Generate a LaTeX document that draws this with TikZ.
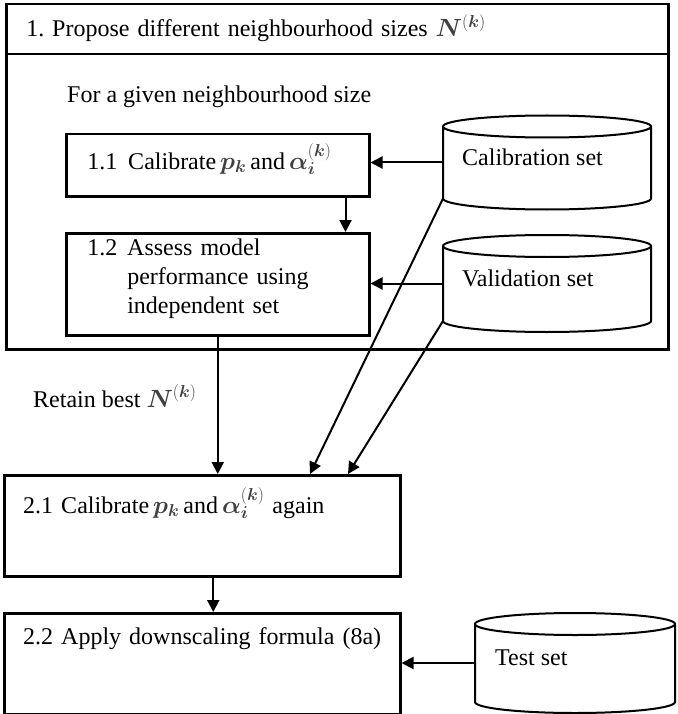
\documentclass[tikz,border=0pt]{standalone}
\usepackage{fontspec}
\setmainfont{Liberation Serif}
\usepackage{bm}
\usetikzlibrary{arrows.meta,calc}

% symbols as printed (bold italic, soft grey)
\newcommand{\Nk}{{\color{black!75}$\bm{N}^{(\bm{k})}$}}
\newcommand{\pk}{{\color{black!75}$\bm{p}_{\bm{k}}$}}
\newcommand{\alik}{{\color{black!75}$\bm{\alpha}_{\bm{i}}^{(\bm{k})}$}}

\tikzset{
  stagebox/.style={draw, line width=2.5pt, anchor=north west, inner sep=0pt,
    align=left, text width=#1},
  dataset/.style={inner sep=0pt, outer sep=0pt},
  flow/.style={-{Triangle[length=12pt,width=12pt]}, line width=2pt},
}

\begin{document}
\begin{tikzpicture}[x=1pt,y=-1pt,
   font=\fontsize{24}{29}\selectfont]
\useasboundingbox (0,0) rectangle (677,714);

% step 1: search over neighbourhood sizes
\node[stagebox=662pt, text height=32pt, text depth=18pt] (propose) at (5,3)
  {\hspace*{20pt}1.\ Propose different neighbourhood sizes \Nk};
\node[draw, line width=2.5pt, anchor=north west, inner sep=0pt,
  minimum width=662pt, minimum height=295pt] (loop) at (5,53) {};
\node[anchor=base west, inner sep=0pt] (given) at (67,103) {For a given neighbourhood size};

\node[stagebox=303pt, text height=35pt, text depth=27pt] (calib) at (65,133)
  {\hspace*{21pt}1.1\hspace{11pt}Calibrate\,\pk\,and\,\alik};
\node[stagebox=303pt, text height=22pt, text depth=80pt] (assess) at (65,232)
  {\hspace*{21pt}\begin{tabular}[t]{@{}l@{\hspace{10pt}}l@{}}
    1.2 & Assess model\\
        & performance using\\
        & independent set
  \end{tabular}};

% data sets
\node[dataset, minimum width=208pt, minimum height=94pt] (calset) at (547,162.5) {};
\node[anchor=base west, inner sep=0pt] (caltext) at (462,165) {Calibration set};
\node[dataset, minimum width=208pt, minimum height=97pt] (valset) at (547,283.5) {};
\node[anchor=base west, inner sep=0pt] (valtext) at (462,286) {Validation set};

% step 2: final calibration and application
\node[anchor=base west, inner sep=0pt] (retain) at (33,407) {Retain best \Nk};
\node[stagebox=396pt, text height=38pt, text depth=63pt] (recal) at (3,474)
  {\hspace*{19pt}2.1 Calibrate\,\pk\,and\,\alik{} again};
\node[stagebox=396pt, text height=31pt, text depth=70pt] (apply) at (3,612)
  {\hspace*{19pt}2.2 Apply downscaling formula (8a)};
\node[dataset, minimum width=200pt, minimum height=100pt] (testset) at (575,663) {};
\node[anchor=base west, inner sep=0pt] (testtext) at (495,665) {Test set};

% cylinder outlines
\foreach \s in {calset,valset,testset}
  \draw[line width=2pt] let \p1=(\s.north west), \p2=(\s.south east),
      \n1={(\x2-\x1)/2} in
    (\x1,\y1-11pt) -- (\x1,\y2+11pt)
      arc[start angle=180, end angle=360, x radius=\n1, y radius=11pt]
      -- (\x2,\y1-11pt)
    (\x1/2+\x2/2,\y1-11pt) ellipse[x radius=\n1, y radius=11pt];

% connectors
\draw[flow] (calset.west) -- (calset.west -| calib.east);
\draw[flow] (valset.west) -- (valset.west -| assess.east);
\draw[flow] ([xshift=-25pt]calib.south east) -- ([xshift=-25pt]assess.north east);
\draw[flow] (assess.south) -- (assess.south |- recal.north);
\draw[flow] ($(calset.south west)+(0,-11)$) -- ([xshift=307pt]recal.north west);
\draw[flow] ($(valset.south west)+(0,-11)$) -- ([xshift=345pt]recal.north west);
\draw[flow] ([xshift=11pt]recal.south) -- ([xshift=11pt]apply.north);
\draw[flow] (testset.west) -- (testset.west -| apply.east);
\end{tikzpicture}
\end{document}
